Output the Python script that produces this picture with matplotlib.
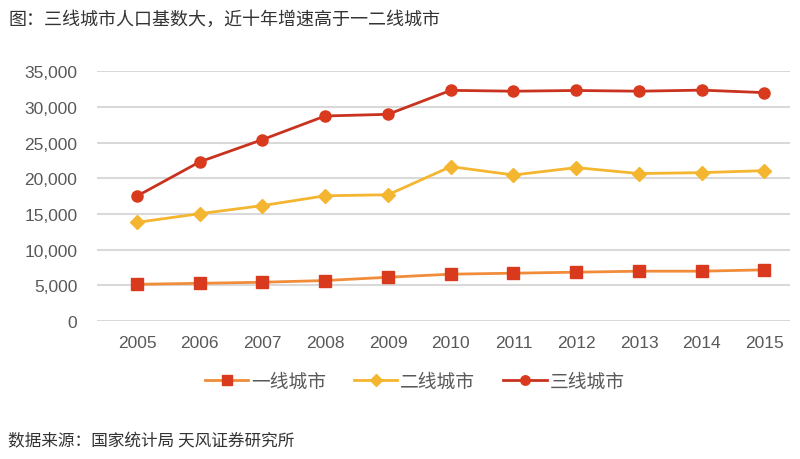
import matplotlib.pyplot as plt
from matplotlib.ticker import FuncFormatter

plt.rcParams['font.family'] = ['Noto Sans CJK SC', 'DejaVu Sans']

years = [2005, 2006, 2007, 2008, 2009, 2010, 2011, 2012, 2013, 2014, 2015]
tier1 = [5140, 5280, 5430, 5670, 6130, 6560, 6700, 6840, 6980, 6980, 7170]
tier2 = [13820, 15040, 16170, 17550, 17690, 21630, 20460, 21490, 20660, 20790, 21070]
tier3 = [17500, 22300, 25420, 28730, 28960, 32320, 32200, 32300, 32200, 32350, 32000]
series_names = ['一线城市', '二线城市', '三线城市']
y_ticks = [0, 5000, 10000, 15000, 20000, 25000, 30000, 35000]

fig = plt.figure(figsize=(8, 4.6), dpi=100)
ax = fig.add_axes([0.121, 0.30, 0.866, 0.543])

ax.plot(years, tier1, color='#F08C3A', linewidth=2, marker='s', markersize=8,
        markerfacecolor='#D93A1E', markeredgecolor='#D93A1E', label=series_names[0], zorder=3)
ax.plot(years, tier2, color='#F4B630', linewidth=2, marker='D', markersize=7,
        markerfacecolor='#F4B630', markeredgecolor='#F4B630', label=series_names[1], zorder=3)
ax.plot(years, tier3, color='#C8321E', linewidth=2, marker='o', markersize=8,
        markerfacecolor='#D93A1E', markeredgecolor='#D93A1E', label=series_names[2], zorder=3)

ax.set_ylim(0, 35000)
ax.set_xlim(2004.36, 2015.4)
ax.set_yticks(y_ticks)
ax.set_xticks(years)
ax.yaxis.set_major_formatter(FuncFormatter(lambda v, p: f'{int(v):,}'))
ax.grid(axis='y', color='#D9D9D9', linewidth=1.5)
ax.set_axisbelow(True)
for s in ax.spines.values():
    s.set_visible(False)
ax.tick_params(length=0, labelsize=12.5, labelcolor='#595959')
ax.tick_params(axis='y', pad=14)
ax.tick_params(axis='x', pad=10)
for lab in ax.get_xticklabels() + ax.get_yticklabels():
    lab.set_fontfamily('Liberation Sans')

leg = ax.legend(loc='center', bbox_to_anchor=(0.459, -0.24), ncol=3, frameon=False,
                fontsize=13.5, labelcolor='#595959', handlelength=2.3, columnspacing=1.5,
                handletextpad=0.15, borderaxespad=0, markerscale=0.85)

fig.text(0.01, 0.958, '图：三线城市人口基数大，近十年增速高于一二线城市',
         fontsize=13, color='#333333', va='center')
fig.text(0.01, 0.04, '数据来源：国家统计局 天风证券研究所',
         fontsize=12, color='#333333', va='center')

plt.savefig('out.png', dpi=100, facecolor='white')
